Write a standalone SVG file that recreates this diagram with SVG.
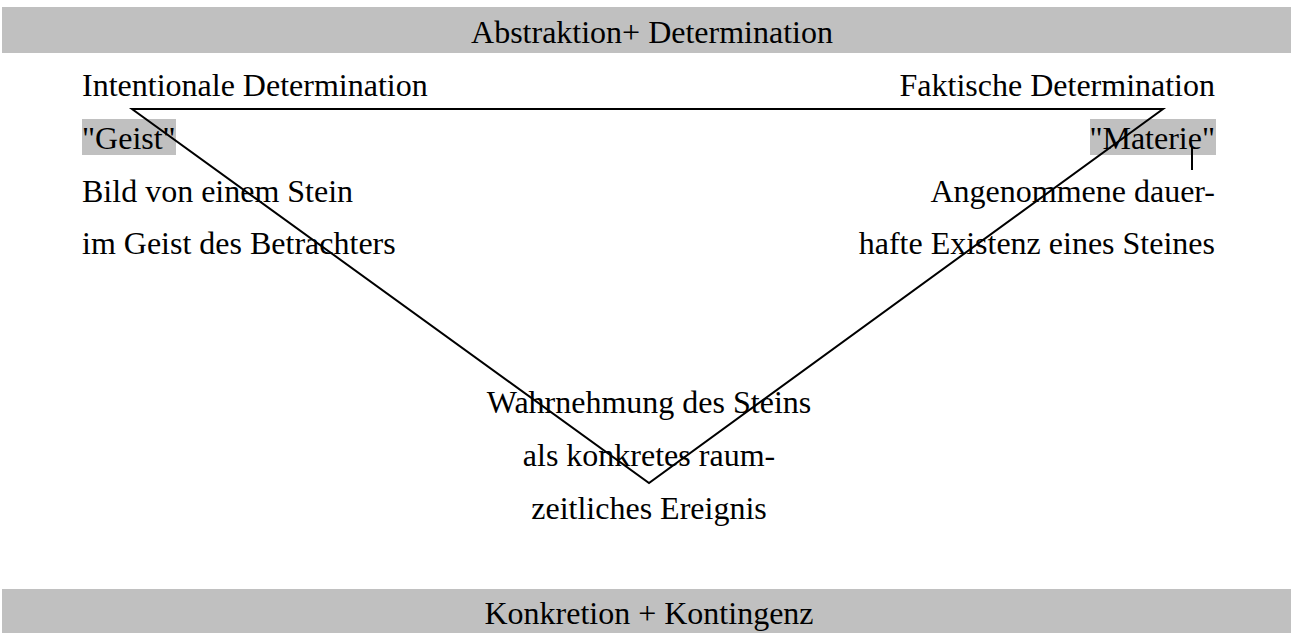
<svg xmlns="http://www.w3.org/2000/svg" width="1291" height="633" viewBox="0 0 1291 633">
<style>
.t{font-family:"Liberation Serif","Times New Roman",serif;font-size:32px;fill:#000}
.bar{fill:#c0c0c0}
.ln{stroke:#000;stroke-width:2;fill:none}
.e{text-anchor:end}
.m{text-anchor:middle}
</style>
<rect width="1291" height="633" fill="#fff"/>
<g id="top-bar">
<rect class="bar" x="2" y="7" width="1289" height="46"/>
<text class="t m" x="652" y="43">Abstraktion+ Determination</text>
</g>
<g id="bottom-bar">
<rect class="bar" x="2" y="589" width="1289" height="44"/>
<text class="t m" x="649" y="624">Konkretion + Kontingenz</text>
</g>
<g id="left-node">
<rect class="bar" x="82" y="119" width="94" height="36"/>
<text class="t" x="82" y="96">Intentionale Determination</text>
<text class="t" x="82" y="149">"Geist"</text>
<text class="t" x="82" y="202">Bild von einem Stein</text>
<text class="t" x="82" y="254">im Geist des Betrachters</text>
</g>
<g id="right-node">
<rect class="bar" x="1090" y="119" width="126" height="36"/>
<text class="t e" x="1215" y="96">Faktische Determination</text>
<text class="t e" x="1215" y="149">"Materie"</text>
<text class="t e" x="1215" y="202">Angenommene dauer-</text>
<text class="t e" x="1215" y="254">hafte Existenz eines Steines</text>
</g>
<g id="bottom-node">
<text class="t m" x="649" y="413">Wahrnehmung des Steins</text>
<text class="t m" x="649" y="466">als konkretes raum-</text>
<text class="t m" x="649" y="519">zeitliches Ereignis</text>
</g>
<g id="connectors">
<polygon class="ln" points="132,109 1163,109 649,483"/>
<line class="ln" x1="1192" y1="147" x2="1192" y2="170"/>
</g>
</svg>
